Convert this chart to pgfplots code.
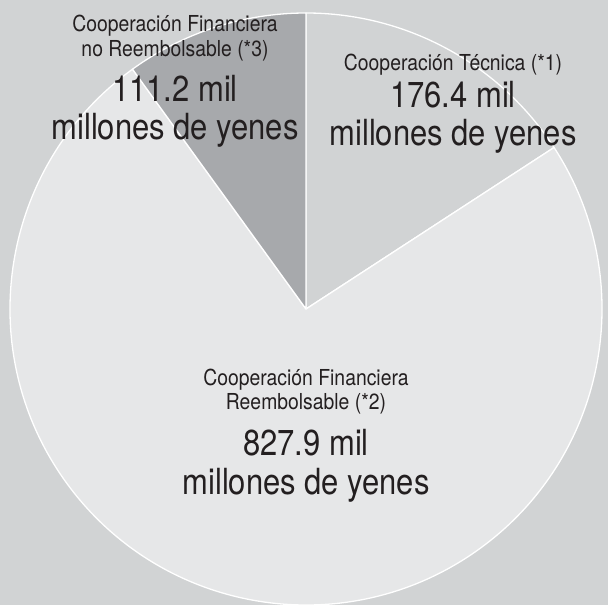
\documentclass[border=0pt]{standalone}
\usepackage{pgfplots}
\pgfplotsset{compat=1.18}
\usepackage{fontspec}
\setmainfont{TeX Gyre Heros}
\newfontfamily\smallf{TeX Gyre Heros}[FakeStretch=0.88]
\newfontfamily\bigf{TeX Gyre Heros}[FakeStretch=0.86]
\definecolor{bgcol}{HTML}{D1D3D4}
\definecolor{reemb}{HTML}{E6E7E8}
\definecolor{noreemb}{HTML}{A7A9AC}
\definecolor{tecn}{HTML}{D1D3D4}
\definecolor{txt}{HTML}{231F20}
% values (mil millones de yenes)
\def\vTec{176.4}
\def\vRee{827.9}
\def\vNor{111.2}
\begin{document}
\begin{tikzpicture}
\pgfmathsetmacro{\tot}{\vTec+\vRee+\vNor}
\pgfmathsetmacro{\aTec}{90-(\vTec/\tot)*360}
\pgfmathsetmacro{\aNor}{90+(\vNor/\tot)*360}
\pgfmathsetmacro{\aRee}{\aTec+360}
\begin{axis}[
  width=608bp, height=605bp, scale only axis,
  xmin=0, xmax=608, ymin=0, ymax=605,
  hide axis, clip=true,
]
\fill[bgcol] (axis cs:0,0) rectangle (axis cs:608,605);
% Cooperacion Tecnica: clockwise from 12 o'clock
\filldraw[fill=tecn, draw=white, line width=1.3bp, line join=round]
  (axis cs:306,296) -- ++(90:296bp) arc[start angle=90, end angle=\aTec, radius=296bp] -- cycle;
% Reembolsable
\filldraw[fill=reemb, draw=white, line width=1.3bp, line join=round]
  (axis cs:306,296) -- ++(\aNor:296bp) arc[start angle=\aNor, end angle=\aRee, radius=296bp] -- cycle;
% No reembolsable
\filldraw[fill=noreemb, draw=white, line width=1.3bp, line join=round]
  (axis cs:306,296) -- ++(90:296bp) arc[start angle=90, end angle=\aNor, radius=296bp] -- cycle;
% labels
\begin{scope}[every node/.style={anchor=base, inner sep=0pt, text=txt}]
\node[font=\smallf\fontsize{22bp}{26bp}\selectfont] at (axis cs:175,573) {Cooperación Financiera};
\node[font=\smallf\fontsize{22bp}{26bp}\selectfont] at (axis cs:175,548) {no Reembolsable (*3)};
\node[font=\bigf\fontsize{36bp}{40bp}\selectfont] at (axis cs:175,503) {111.2 mil};
\node[font=\bigf\fontsize{36bp}{40bp}\selectfont] at (axis cs:175,465) {millones de yenes};
\node[font=\smallf\fontsize{22bp}{26bp}\selectfont] at (axis cs:453,534) {Cooperación Técnica (*1)};
\node[font=\bigf\fontsize{36bp}{40bp}\selectfont] at (axis cs:453,497) {176.4 mil};
\node[font=\bigf\fontsize{36bp}{40bp}\selectfont] at (axis cs:453,459) {millones de yenes};
\node[font=\smallf\fontsize{22bp}{26bp}\selectfont] at (axis cs:306,219) {Cooperación Financiera};
\node[font=\smallf\fontsize{22bp}{26bp}\selectfont] at (axis cs:306,195) {Reembolsable (*2)};
\node[font=\bigf\fontsize{36bp}{40bp}\selectfont] at (axis cs:306,149) {827.9 mil};
\node[font=\bigf\fontsize{36bp}{40bp}\selectfont] at (axis cs:306,110) {millones de yenes};
\end{scope}
\end{axis}
\end{tikzpicture}
\end{document}
